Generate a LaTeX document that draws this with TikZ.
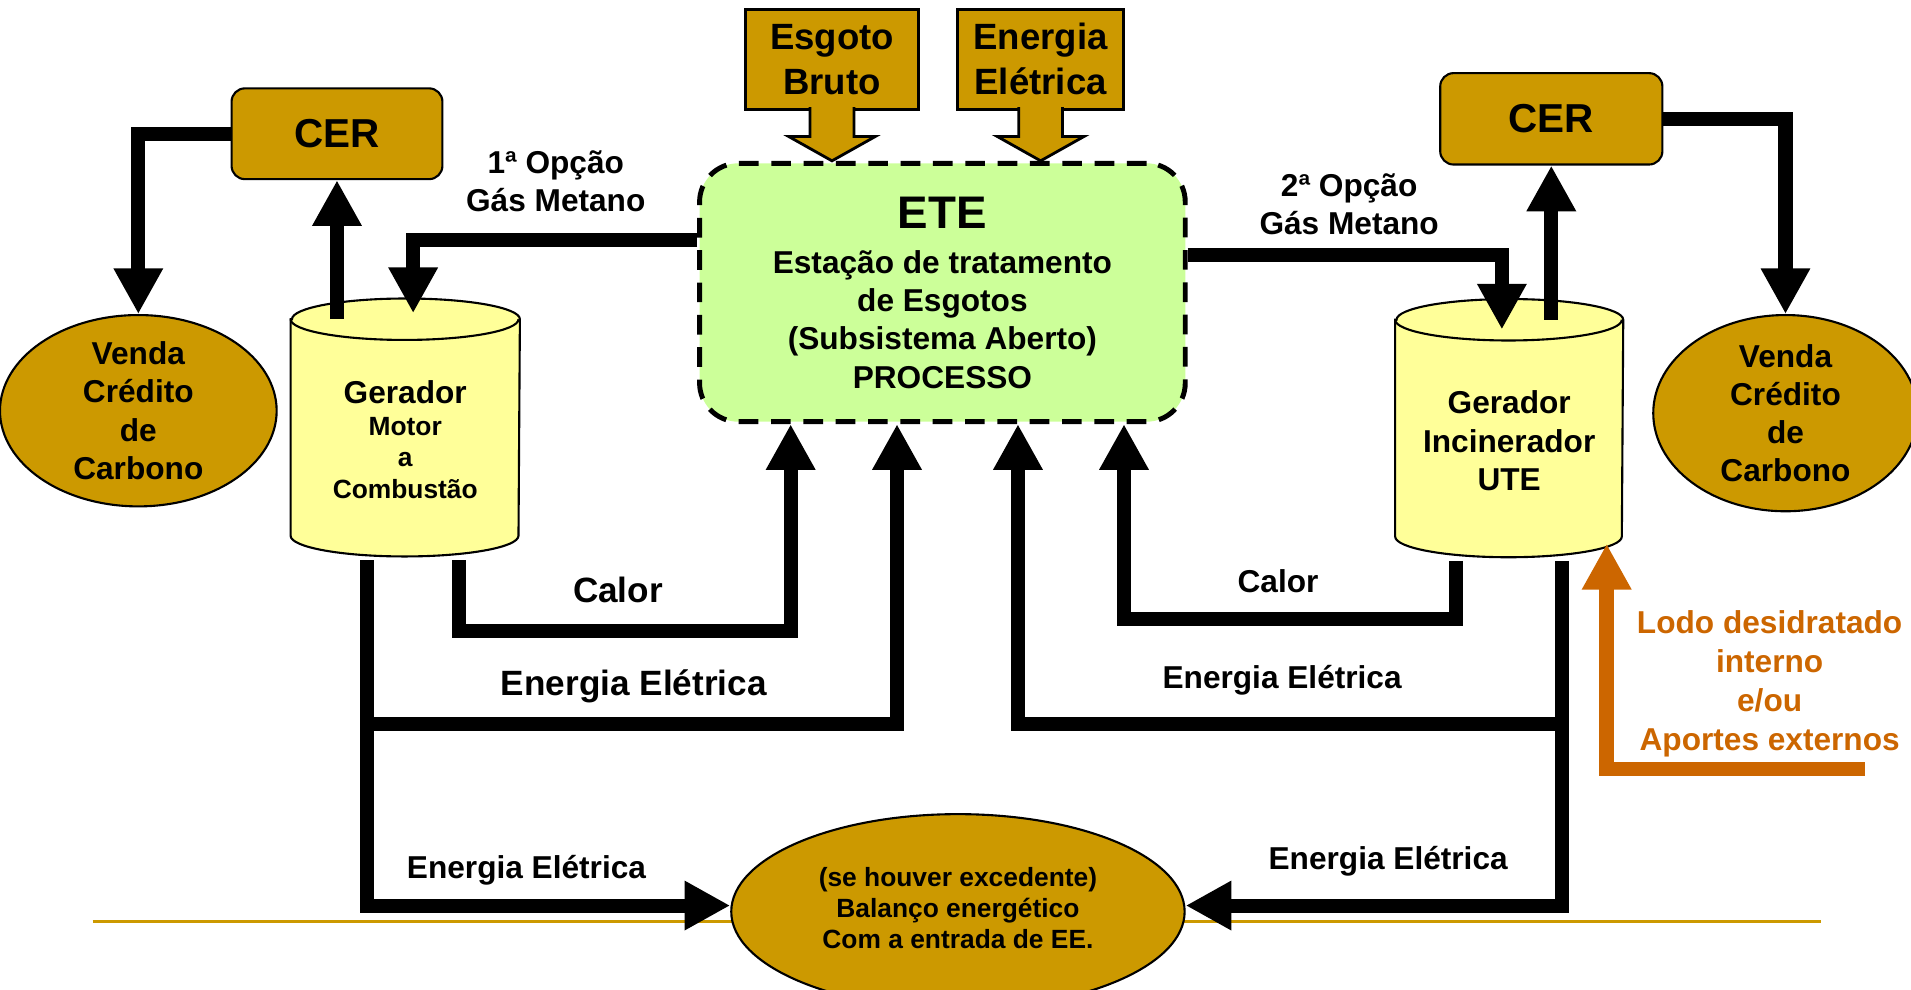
\documentclass[tikz,border=0pt]{standalone}
\usepackage{fontspec}
\setmainfont{Liberation Sans}
\usetikzlibrary{arrows.meta,shapes.geometric}
\newcommand{\upx}{0.12188mm}
\newcommand{\setfs}[2]{\fontsize{#1}{#2}\selectfont\bfseries}
\definecolor{ouro}{HTML}{CC9900}
\definecolor{creme}{HTML}{FFFF99}
\definecolor{verde}{HTML}{CCFF99}
\definecolor{laranja}{HTML}{CC6600}

\begin{document}
\begin{tikzpicture}[x=\upx,y=-\upx]
\tikzset{every node/.style={align=center, inner sep=0pt, font=\setfs{9}{10.9}}}
\tikzset{CerStyle/.style={draw, line width=0.6pt, fill=ouro, rounded corners=3.8pt, font=\setfs{11.5}{13}}}
\tikzset{OvalStyle/.style={ellipse, draw, line width=0.6pt, fill=ouro}}
\tikzset{InStyle/.style={draw, line width=0.8pt, fill=ouro, font=\setfs{10.4}{12.8}}}
\tikzset{CylStyle/.style={draw, line width=0.6pt, fill=creme}}
\tikzset{ProcStyle/.style={draw, line width=1.4pt, dash pattern=on 5.6pt off 3.6pt, fill=verde, rounded corners=11pt}}
\tikzset{EdgeStyle/.style={line width=4pt, -{Triangle[width=13.2pt,length=13pt]}}}
\tikzset{LodoStyle/.style={EdgeStyle, laranja, line width=4.2pt}}
 \useasboundingbox (0,0) rectangle (1568,812);
 \coordinate (linhaA) at (76,756);
 \coordinate (linhaB) at (1494.5,756);
\draw[ouro, line width=1pt] (linhaA) -- (linhaB);
  \node[CerStyle, minimum width=173*\upx, minimum height=74.5*\upx] (cerL) at (276.5,109.75) {CER};
  \node[CerStyle, minimum width=182.3*\upx, minimum height=75*\upx] (cerR) at (1272.85,97.5) {CER};
  \node[OvalStyle, minimum width=227*\upx, minimum height=157*\upx] (vendaL) at (113.5,337) {};
  \node[OvalStyle, minimum width=217*\upx, minimum height=161*\upx] (vendaR) at (1465,339) {};
  \node (vendaLtxt) at (vendaL) {Venda\\Crédito\\de\\Carbono};
  \node (vendaRtxt) at (vendaR) {Venda\\Crédito\\de\\Carbono};
  \node[OvalStyle, minimum width=372*\upx, minimum height=160*\upx] (bal) at (786,748) {};
  \node[font=\setfs{7.5}{8.85}] (baltxt) at (786,745) {(se houver excedente)\\Balanço energético\\Com a entrada de EE.};
  \node[ProcStyle, minimum width=398.5*\upx, minimum height=212*\upx] (ete) at (773.25,240) {{\setfs{13}{14}ETE}\\[1.9pt]Estação de tratamento\\de Esgotos\\(Subsistema Aberto)\\PROCESSO};
  \node[InStyle, minimum width=142.1*\upx, minimum height=82*\upx] (esgoto) at (682.65,48.7) {Esgoto\\Bruto};
  \node[InStyle, minimum width=136.5*\upx, minimum height=82*\upx] (energia) at (853.85,48.7) {Energia\\Elétrica};
\path[InStyle] ([xshift=-18*\upx,yshift=1pt]esgoto.south) -- ++(0,24) -- ++(-17.6,0) -- ++(35.6,20) -- ++(35.6,-20) -- ++(-17.6,0) -- ++(0,-24);
\path[InStyle] ([xshift=-18*\upx,yshift=1pt]energia.south) -- ++(0,24) -- ++(-17.6,0) -- ++(35.6,20) -- ++(35.6,-20) -- ++(-17.6,0) -- ++(0,-24);
  \node[minimum width=187*\upx, minimum height=176.5*\upx] (genL) at (332.5,350.75) {};
  \node[minimum width=186*\upx, minimum height=176.7*\upx] (genR) at (1238.3,351.3) {};
\path[CylStyle] (genL.north west) -- (genL.south west) arc[start angle=180, end angle=0, x radius=93.5, y radius=17] -- (genL.north east) arc[start angle=0, end angle=-180, x radius=93.5, y radius=17] -- cycle;
\draw[line width=0.6pt] (genL.north west) arc[start angle=180, end angle=0, x radius=93.5, y radius=17];
\path[CylStyle] (genR.north west) -- (genR.south west) arc[start angle=180, end angle=0, x radius=93, y radius=17] -- (genR.north east) arc[start angle=0, end angle=-180, x radius=93, y radius=17] -- cycle;
\draw[line width=0.6pt] (genR.north west) arc[start angle=180, end angle=0, x radius=93, y radius=17];
  \node[font=\setfs{7.5}{9}] (genLtxt) at ([yshift=-10*\upx]genL.center) {{\setfs{9}{10}Gerador}\\Motor\\a\\Combustão};
  \node (genRtxt) at ([yshift=-10.5*\upx]genR.center) {Gerador\\Incinerador\\UTE};
\draw[EdgeStyle] (cerL.west) -| (vendaL.north);
\draw[EdgeStyle] (cerL.south |- genL.north) -- (cerL.south);
\draw[EdgeStyle] ([yshift=43*\upx]ete.west) -| ([xshift=6.5*\upx,yshift=5*\upx]genL.north);
\draw[EdgeStyle] ([yshift=31*\upx]ete.east) -| ([xshift=-6*\upx,yshift=-8*\upx]genR.north);
\draw[EdgeStyle] (cerR.south |- genR.north) -- (cerR.south);
\draw[EdgeStyle] (cerR.east) -| (vendaR.north);
 \coordinate (baseL) at ([yshift=-20*\upx]genL.south);
 \coordinate (baseR) at ([yshift=-20*\upx]genR.south);
 \coordinate (eeL) at (301.5,594);
 \coordinate (eeR) at (1281.8,594);
 \coordinate (lodo) at (1530,631);
\draw[EdgeStyle] ([xshift=44*\upx]baseL) -- ++(0,58) -| ([xshift=-124.5*\upx]ete.south);
\draw[EdgeStyle] ([xshift=-31*\upx]baseL) |- ([yshift=5*\upx]bal.west);
\draw[EdgeStyle] (eeL) -| ([xshift=-37.25*\upx]ete.south);
\draw[EdgeStyle] ([xshift=-43.5*\upx]baseR) -- ++(0,47.6) -| ([xshift=149*\upx]ete.south);
\draw[EdgeStyle] ([xshift=43.5*\upx]baseR) |- ([yshift=5*\upx]bal.east);
\draw[EdgeStyle] (eeR) -| ([xshift=62*\upx]ete.south);
\draw[LodoStyle] (lodo) -| ([xshift=80*\upx,yshift=-6*\upx]genR.south);
  \node (opc1) at (456,149) {1ª Opção\\Gás Metano};
  \node (opc2) at (1107,167.5) {2ª Opção\\Gás Metano};
  \node[font=\setfs{10}{12}] (calorL) at (507,484) {Calor};
  \node (calorR) at (1048.6,477) {Calor};
  \node[font=\setfs{10}{12}] (eeMidL) at (520,563.4) {Energia Elétrica};
  \node (eeMidR) at (1052,558) {Energia Elétrica};
  \node (eeBotL) at (432,714) {Energia Elétrica};
  \node (eeBotR) at (1139,707) {Energia Elétrica};
  \node[text=laranja, font=\setfs{9}{11.1}] (lodotxt) at (1452,561) {Lodo desidratado\\interno\\e/ou\\Aportes externos};
\end{tikzpicture}
\end{document}
